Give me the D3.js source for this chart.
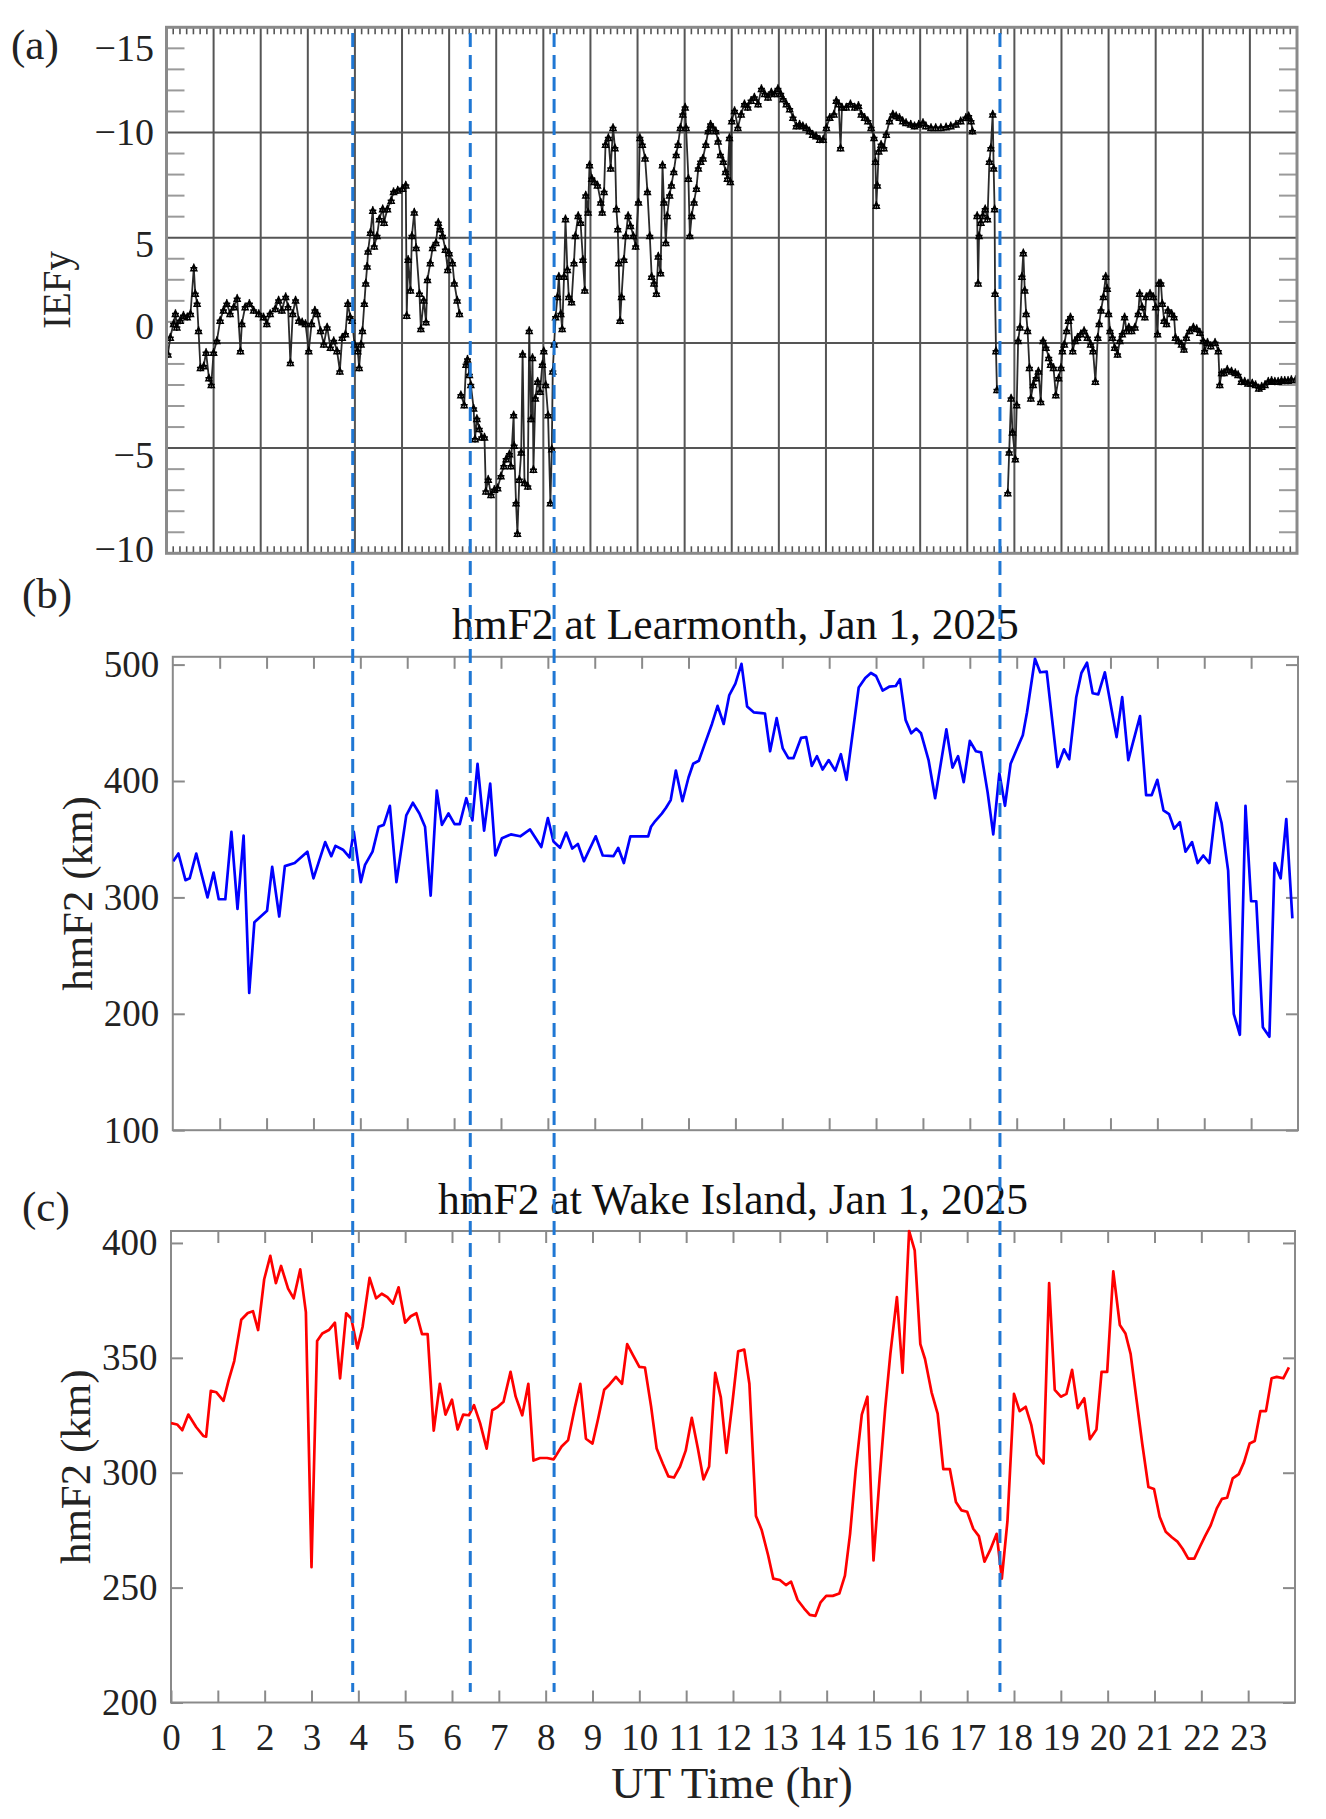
<!DOCTYPE html>
<html>
<head>
<meta charset="utf-8">
<script src="https://cdn.jsdelivr.net/npm/d3@7"></script>
<style>
  body { margin: 0; background: #ffffff; }
  svg { display: block; }
</style>
</head>
<body>
<svg id="chart" width="1326" height="1819"></svg>
<script>
// ---------------- DATA ----------------
// (a) IEFy time (UT hr) and value; null = data gap
const iefyT = [0.03,0.08,0.15,0.19,0.22,0.29,0.36,0.44,0.51,0.58,0.61,0.65,0.68,0.72,0.79,0.84,0.9,0.95,1.0,1.07,1.14,1.21,1.28,1.35,1.43,1.5,1.57,1.6,1.67,1.76,1.85,1.96,2.06,2.13,2.2,2.31,2.38,2.45,2.53,2.58,2.63,2.68,2.74,2.81,2.88,2.95,3.02,3.08,3.15,3.2,3.27,3.34,3.41,3.48,3.55,3.62,3.68,3.73,3.8,3.85,3.9,3.94,3.99,4.06,4.09,4.13,4.16,4.2,4.23,4.26,4.28,4.33,4.38,4.41,4.47,4.52,4.59,4.62,4.69,4.77,4.82,4.91,5.01,5.08,5.1,5.13,5.18,5.21,5.26,5.3,5.37,5.4,5.46,5.51,5.54,5.6,5.65,5.72,5.77,5.81,5.86,5.92,5.97,6.0,6.07,6.11,6.17,6.22,6.235,6.25,6.32,6.36,6.39,6.43,6.46,6.52,6.55,6.59,6.64,6.69,6.75,6.78,6.83,6.89,6.96,7.03,7.1,7.16,7.21,7.28,7.31,7.37,7.38,7.42,7.45,7.49,7.53,7.56,7.6,7.67,7.7,7.74,7.77,7.79,7.83,7.88,7.93,7.98,8.01,8.05,8.1,8.15,8.18,8.2,8.23,8.26,8.3,8.33,8.37,8.4,8.44,8.47,8.51,8.54,8.6,8.65,8.68,8.74,8.79,8.84,8.88,8.9,8.95,8.98,9.03,9.08,9.15,9.22,9.25,9.29,9.32,9.38,9.43,9.48,9.52,9.55,9.58,9.6,9.63,9.66,9.71,9.75,9.8,9.85,9.91,9.96,10.02,10.05,10.1,10.16,10.21,10.26,10.3,10.35,10.4,10.44,10.49,10.53,10.56,10.6,10.63,10.68,10.72,10.77,10.82,10.86,10.91,10.96,11.01,11.03,11.08,11.11,11.15,11.2,11.25,11.29,11.34,11.39,11.45,11.5,11.55,11.6,11.66,11.71,11.76,11.82,11.87,11.91,11.95,11.97,12.0,12.06,12.13,12.2,12.27,12.34,12.41,12.48,12.56,12.63,12.7,12.77,12.84,12.91,12.98,13.04,13.09,13.16,13.23,13.3,13.37,13.44,13.51,13.58,13.65,13.72,13.79,13.87,13.94,14.01,14.08,14.17,14.22,14.27,14.31,14.34,14.43,14.52,14.61,14.69,14.75,14.82,14.89,14.96,15.02,15.05,15.07,15.09,15.12,15.17,15.23,15.28,15.35,15.42,15.49,15.56,15.63,15.7,15.8,15.88,15.97,16.06,16.12,16.23,16.33,16.44,16.55,16.65,16.76,16.86,16.97,17.03,17.08,17.11,17.16,17.21,17.23,17.25,17.29,17.33,17.38,17.43,17.47,17.5,17.54,17.56,17.58,17.59,17.61,17.63,17.75,17.86,17.89,17.93,17.96,18.02,18.05,18.08,18.12,18.16,18.19,18.22,18.25,18.28,18.32,18.35,18.4,18.46,18.51,18.56,18.61,18.67,18.73,18.77,18.83,18.88,18.94,18.99,19.02,19.06,19.11,19.15,19.19,19.24,19.29,19.34,19.41,19.48,19.55,19.62,19.67,19.72,19.77,19.8,19.84,19.89,19.94,19.97,20.0,20.03,20.08,20.13,20.19,20.24,20.29,20.34,20.38,20.43,20.49,20.56,20.63,20.66,20.71,20.77,20.8,20.88,20.95,21.0,21.04,21.07,21.11,21.14,21.18,21.23,21.26,21.34,21.39,21.42,21.48,21.55,21.6,21.65,21.72,21.8,21.87,21.94,22.01,22.04,22.1,22.17,22.26,22.33,22.36,22.4,22.45,22.52,22.61,22.69,22.75,22.82,22.89,22.96,23.05,23.12,23.19,23.25,23.32,23.39,23.46,23.53,23.6,23.67,23.74,23.81,23.88,23.97];
const iefyV = [-0.53,0.27,0.92,1.4,0.76,1.08,1.32,1.24,1.4,3.57,2.36,1.88,0.59,-1.17,-1.09,-0.45,-1.66,-1.98,-0.45,0.11,1.08,1.56,1.88,1.4,1.72,2.12,-0.37,0.92,1.72,1.88,1.56,1.4,1.24,0.92,1.4,1.64,2.04,1.56,2.2,1.72,-0.93,1.4,2.04,1.08,1.0,0.92,-0.37,0.92,1.56,1.4,0.59,-0.05,0.76,-0.21,0.11,-0.37,-1.33,0.27,0.43,1.88,1.24,1.08,-0.05,-0.37,-1.17,-0.05,0.59,1.88,2.85,3.65,4.37,5.26,6.3,4.61,5.1,5.9,6.38,5.74,6.38,6.78,7.19,7.27,7.35,7.51,1.32,3.97,2.52,5.1,6.22,4.53,2.36,0.68,2.04,1.0,3.01,3.81,4.53,4.77,5.74,5.42,5.1,4.45,3.49,4.29,3.81,2.85,2.04,1.4,null,-2.46,-2.94,-1.01,-0.77,-1.5,-1.98,-3.1,-4.55,-3.59,-4.07,-4.47,-4.47,-7.04,-6.48,-7.2,-6.96,-6.88,-6.32,-5.84,-5.51,-5.27,-5.84,-3.42,-4.87,-7.6,-9.05,-6.48,-5.19,-0.53,-6.64,-6.8,0.59,-3.59,-0.69,-6.0,-2.62,-1.82,-2.3,-1.01,-0.37,-1.98,-3.42,-7.6,-5.03,-1.33,-0.05,1.24,2.2,3.17,1.4,0.68,3.17,5.9,3.49,2.2,1.96,3.81,5.1,6.06,5.74,3.97,2.52,7.03,6.22,8.47,7.83,7.67,7.51,6.7,6.22,7.19,9.44,9.76,8.31,10.24,9.28,6.38,5.42,3.81,1.08,2.2,3.97,5.1,6.06,5.58,5.1,4.61,6.7,9.76,9.44,8.79,7.19,5.1,3.17,2.85,2.36,4.13,3.33,8.47,6.7,4.77,6.06,7.03,7.51,8.15,8.95,9.44,10.24,10.88,11.21,10.24,7.83,5.1,6.06,6.7,7.35,8.31,8.63,8.79,9.44,10.08,10.4,10.24,10.08,9.6,8.95,8.63,8.15,7.83,9.76,7.67,10.56,11.05,10.24,10.88,11.37,11.21,11.53,11.69,11.37,12.09,11.85,11.69,11.93,11.85,12.09,11.85,11.61,11.37,11.13,10.72,10.32,10.4,10.32,10.24,10.08,9.92,9.84,9.68,9.68,10.24,10.72,10.88,11.53,11.37,9.28,11.21,11.21,11.37,11.21,11.29,10.88,10.72,10.56,10.24,9.76,8.63,6.54,7.51,9.12,9.44,9.28,9.92,10.56,10.88,10.8,10.72,10.56,10.48,10.4,10.32,10.4,10.48,10.32,10.24,10.24,10.24,10.27,10.32,10.4,10.56,10.72,10.8,10.56,10.08,null,6.06,2.85,5.1,5.74,6.06,6.38,5.9,8.63,9.28,10.88,8.31,6.38,2.36,-0.37,-2.22,null,-7.12,-5.19,-2.62,-4.23,-5.51,-2.94,0.11,0.76,3.17,4.29,2.52,1.4,0.59,-1.17,-2.62,-1.98,-1.66,-1.33,-2.78,0.11,-0.21,-0.69,-1.01,-1.17,-2.46,-1.66,-1.17,-0.37,-0.05,0.59,1.08,1.24,-0.37,0.11,0.27,0.43,0.59,0.27,-0.05,-0.37,-1.82,0.27,0.92,1.56,2.2,3.17,2.6,1.4,0.59,0.27,-0.21,-0.53,0.11,0.43,1.24,0.59,0.76,0.59,0.76,1.4,2.36,1.72,1.24,2.2,2.36,2.2,1.72,0.43,2.85,2.85,1.88,1.08,0.92,1.56,1.4,1.24,0.27,0.11,-0.05,-0.29,0.27,0.59,0.76,0.68,0.51,0.11,-0.37,0.03,-0.13,0.03,-0.37,-1.98,-1.41,-1.41,-1.25,-1.33,-1.41,-1.5,-1.82,-1.82,-1.9,-1.9,-1.98,-2.14,-2.06,-1.98,-1.82,-1.78,-1.82,-1.82,-1.78,-1.78,-1.78,-1.74,-1.74];

// (b) hmF2 at Learmonth
const learT = [0.01,0.12,0.27,0.36,0.5,0.74,0.87,0.98,1.12,1.25,1.38,1.51,1.63,1.74,2.01,2.12,2.27,2.39,2.6,2.87,3.0,3.25,3.38,3.47,3.63,3.77,3.86,4.01,4.1,4.26,4.39,4.5,4.63,4.77,4.98,5.12,5.26,5.38,5.5,5.63,5.74,5.88,6.01,6.12,6.26,6.39,6.5,6.64,6.77,6.88,7.02,7.21,7.41,7.62,7.86,8.0,8.12,8.26,8.39,8.52,8.64,8.77,9.02,9.17,9.4,9.5,9.62,9.76,10.02,10.14,10.2,10.29,10.43,10.52,10.62,10.73,10.87,11.0,11.1,11.22,11.34,11.5,11.62,11.75,11.87,12.0,12.13,12.25,12.39,12.63,12.74,12.88,13.01,13.13,13.24,13.4,13.51,13.63,13.74,13.86,13.99,14.13,14.25,14.37,14.63,14.77,14.89,15.0,15.14,15.28,15.42,15.51,15.63,15.75,15.86,15.96,16.12,16.26,16.5,16.63,16.75,16.87,17.0,17.13,17.24,17.38,17.5,17.63,17.75,17.87,17.99,18.13,18.22,18.39,18.5,18.64,18.87,19.01,19.12,19.27,19.38,19.5,19.62,19.74,19.88,20.13,20.25,20.38,20.63,20.76,20.88,21.0,21.13,21.25,21.36,21.48,21.6,21.74,21.86,21.98,22.11,22.26,22.37,22.51,22.63,22.76,22.88,23.0,23.11,23.25,23.39,23.5,23.63,23.75,23.88];
const learV = [331.1,337.7,314.8,316.4,337.7,300,321.3,298.4,298.4,356.4,290.2,353.1,218,278.7,288.5,326.2,283.6,326.9,329.5,339.3,316.4,347.5,335.4,344.3,341,334.4,356.4,313.1,327.9,339.3,360.7,362.3,378.7,313.1,370.5,381.3,372.1,360.7,301.6,391.8,362.3,372.1,363,363,385.2,366.2,414.8,357.4,397.7,336,350.8,354.1,352.5,358.4,343.3,368.2,348,342.6,355.7,342,345.9,331.1,352.5,336,335.4,342.6,329.5,352.5,352.5,352.5,360.7,365.6,372,377,383.6,409,382.6,403,414.8,417.4,431,449,464.6,449,473.8,483.6,500.6,464,459,458,425.6,454,428,419.7,419.7,437,437.7,413,421.3,409.8,418,408.9,423,401,480.3,488.5,492.8,490.2,477.7,481,481.6,487.5,452.5,441,445,441,418,385.2,444.3,411.5,421.3,399,434.4,425.6,424.6,390.2,354.1,406.6,378.7,414.8,426.2,439.3,459,505,493.4,494,412,427.2,418.7,472,492.8,501.6,475.4,474.4,493.4,437.7,472,418,455.7,387.9,387.9,401,374.8,371.5,359,364.6,339.3,347.5,329.5,336,329.5,381.3,363.9,323,200,182,378.7,296.7,296.7,188.5,180.3,329.5,316.4,367.2,282];

// (c) hmF2 at Wake Island
const wakeT = [0.0,0.13,0.24,0.37,0.54,0.69,0.75,0.85,0.97,1.12,1.23,1.35,1.5,1.64,1.75,1.86,1.99,2.12,2.24,2.35,2.5,2.62,2.76,2.88,3.0,3.12,3.23,3.37,3.5,3.61,3.74,3.85,3.98,4.09,4.24,4.38,4.5,4.62,4.74,4.86,5.0,5.12,5.24,5.36,5.48,5.61,5.74,5.86,6.0,6.12,6.24,6.36,6.47,6.6,6.74,6.86,6.98,7.1,7.25,7.36,7.5,7.63,7.74,7.88,8.03,8.17,8.34,8.48,8.62,8.74,8.86,9.0,9.12,9.25,9.36,9.5,9.63,9.74,9.87,10.0,10.12,10.25,10.37,10.5,10.62,10.74,10.87,10.99,11.12,11.25,11.37,11.49,11.62,11.74,11.86,11.99,12.11,12.24,12.35,12.49,12.61,12.75,12.86,13.0,13.13,13.24,13.38,13.52,13.64,13.76,13.87,13.99,14.13,14.27,14.39,14.5,14.62,14.75,14.87,15.0,15.13,15.25,15.36,15.5,15.62,15.76,15.88,16.0,16.1,16.24,16.37,16.49,16.63,16.76,16.88,17.0,17.13,17.25,17.37,17.49,17.63,17.74,17.86,18.0,18.12,18.25,18.37,18.49,18.63,18.75,18.87,19.0,19.12,19.24,19.36,19.5,19.62,19.76,19.87,19.99,20.12,20.26,20.38,20.49,20.61,20.74,20.87,20.99,21.11,21.24,21.37,21.49,21.6,21.72,21.85,21.97,22.08,22.2,22.33,22.44,22.55,22.67,22.8,22.91,23.03,23.14,23.26,23.38,23.5,23.61,23.75,23.87];
const wakeV = [321.6,321,318.5,325.3,319.8,316,315.7,335.6,335,331.3,340.2,348.6,366.6,369.5,370.3,362.1,384.2,394.4,382.5,390,380.1,375.9,388.5,369.9,258.9,357.3,360.6,362.1,365.3,341.1,369.4,367.1,354.1,363.4,384.8,375.9,377.9,376.4,373.6,380.7,365.3,368.1,369.4,360.3,360.3,318.3,338.7,325.3,331.8,318.8,325.3,325,329.4,321.6,310.5,327.2,328.7,330.9,343.9,333.1,325,338.7,305.3,306.4,306.4,305.8,311.4,314.2,328.1,338.7,314.8,312.7,323.5,336.1,338.3,341.7,338.7,356,351,346.1,345.8,329,310.5,304,298.4,297.9,302.7,309.6,323.9,310.5,297.1,302.7,343.5,332.8,308.6,330.9,352.8,353.6,338.7,281.2,275.2,264.1,253.9,253.3,251.1,252.6,244.6,240.9,238.1,237.7,243.6,246.4,246.4,247.4,255.2,273.4,301.2,325.3,333.1,261.8,297.5,328.1,351.7,376.4,343.5,405.2,396.8,356,349.5,335,325.7,301.6,301.6,287.3,283.6,283,275.6,272.4,261.3,266.3,273.4,253.9,278.9,334.3,326.8,328.7,320.7,307.7,304,382.5,336.1,333.1,334.3,344.8,328.1,332.4,314.6,318.8,343.9,343.9,387.6,364.3,360.6,351.7,332.8,312.4,293.8,292.9,280.8,274.3,271.9,270,266.9,262.6,262.6,267.8,272.4,277.1,284.5,288.6,289.1,297.5,299.4,304.5,312.7,313.8,326.8,326.8,341.1,341.7,341.1,345.8];

// event markers (UT hr)
const eventHours = [3.88, 6.39, 8.18, 17.70];

// ticks and labels
const hourTicks = d3.range(0, 24);
const yTicksA = [15, 10, 5, 0, -5, -10];
const yTickLabelsA = ["\u221215", "\u221210", "5", "0", "\u22125", "\u221210"];
const yTicksB = [100, 200, 300, 400, 500];
const yTicksC = [200, 250, 300, 350, 400];
const panelLetters = ["(a)", "(b)", "(c)"];
const titleB = "hmF2 at Learmonth, Jan 1, 2025";
const titleC = "hmF2 at Wake Island, Jan 1, 2025";
const yLabelA = "IEFy";
const yLabelBC = "hmF2 (km)";
const xLabel = "UT Time (hr)";

// ---------------- DRAWING ----------------
const FONT = '"Liberation Serif","Times New Roman",Times,serif';
const svg = d3.select("#chart");
svg.append("rect").attr("width", 1326).attr("height", 1819).attr("fill", "#fff");

const toPts = (T, V) => T.map((t, i) => ({ t: t, v: V[i] }));

// ===== Panel (a) =====
const xA = d3.scaleLinear().domain([0, 24]).range([166.5, 1297]);
const yA = d3.scaleLinear().domain([-10, 15]).range([553.3, 27.3]);
const gA = svg.append("g");

gA.selectAll("line.vg").data(d3.range(1, 24)).join("line").attr("class", "vg")
  .attr("x1", d => xA(d)).attr("x2", d => xA(d))
  .attr("y1", yA(15)).attr("y2", yA(-10))
  .attr("stroke", "#555").attr("stroke-width", 2);
gA.selectAll("line.hg").data([10, 5, 0, -5]).join("line").attr("class", "hg")
  .attr("x1", xA(0)).attr("x2", xA(24))
  .attr("y1", d => yA(d)).attr("y2", d => yA(d))
  .attr("stroke", "#555").attr("stroke-width", 2);

// minor y ticks (every 1 unit) on both sides
const minorY = d3.range(-9, 15).filter(v => v % 5 !== 0);
gA.selectAll("line.myl").data(minorY).join("line").attr("class", "myl")
  .attr("x1", xA(0)).attr("x2", xA(0) + 18)
  .attr("y1", d => yA(d)).attr("y2", d => yA(d))
  .attr("stroke", "#9a9a9a").attr("stroke-width", 2);
gA.selectAll("line.myr").data(minorY).join("line").attr("class", "myr")
  .attr("x1", xA(24) - 18).attr("x2", xA(24))
  .attr("y1", d => yA(d)).attr("y2", d => yA(d))
  .attr("stroke", "#9a9a9a").attr("stroke-width", 2);

// minor x ticks top/bottom
const minorX = [];
hourTicks.forEach(h => { for (let k = 1; k <= 6; k++) minorX.push(h + k / 7); });
gA.selectAll("line.mxt").data(minorX).join("line").attr("class", "mxt")
  .attr("x1", d => xA(d)).attr("x2", d => xA(d))
  .attr("y1", yA(15)).attr("y2", yA(15) + 7)
  .attr("stroke", "#555").attr("stroke-width", 1.6);
gA.selectAll("line.mxb").data(minorX).join("line").attr("class", "mxb")
  .attr("x1", d => xA(d)).attr("x2", d => xA(d))
  .attr("y1", yA(-10) - 7).attr("y2", yA(-10))
  .attr("stroke", "#555").attr("stroke-width", 1.6);

// data
svg.append("clipPath").attr("id", "clipA").append("rect")
  .attr("x", xA(0)).attr("y", yA(15)).attr("width", xA(24) - xA(0)).attr("height", yA(-10) - yA(15));
const ptsA = toPts(iefyT, iefyV);
const lineA = d3.line().defined(d => d.v !== null).x(d => xA(d.t)).y(d => yA(d.v));
const gAd = gA.append("g").attr("clip-path", "url(#clipA)");
gAd.append("path").datum(ptsA).attr("d", lineA)
  .attr("fill", "none").attr("stroke", "#2a2a2a").attr("stroke-width", 1.8);
gAd.selectAll("path.mk").data(ptsA.filter(d => d.v !== null)).join("path").attr("class", "mk")
  .attr("transform", d => `translate(${xA(d.t)},${yA(d.v)})`)
  .attr("d", "M-3.5,0H3.5M0,-4V4M-3,3L0,-3L3,3Z")
  .attr("fill", "none").attr("stroke", "#000").attr("stroke-width", 1.5);

// border
gA.append("rect").attr("x", xA(0)).attr("y", yA(15))
  .attr("width", xA(24) - xA(0)).attr("height", yA(-10) - yA(15))
  .attr("fill", "none").attr("stroke", "#8a8a8a").attr("stroke-width", 3);

// y tick labels via axis
const nudgeA = [20.7, -0.7, 6, -17.8, 6, -4.3];
const axA = svg.append("g").attr("transform", `translate(${xA(0)},0)`)
  .call(d3.axisLeft(yA).tickValues(yTicksA).tickFormat((d, i) => yTickLabelsA[i]).tickSize(0).tickPadding(12.5));
axA.select(".domain").remove();
axA.selectAll("text").attr("font-family", FONT).attr("font-size", 38).attr("fill", "#222")
  .attr("dy", "0.34em")
  .attr("transform", (d, i) => `translate(0,${nudgeA[i]})`);

svg.append("text").attr("transform", `translate(56,290) rotate(-90)`)
  .attr("text-anchor", "middle").attr("dominant-baseline", "central")
  .attr("font-family", FONT).attr("font-size", 39).attr("fill", "#222").text(yLabelA);

// ===== Generic MATLAB-like panel =====
function matPanel(opts) {
  const x = d3.scaleLinear().domain([0, 24]).range([opts.x0, opts.x1]);
  const y = d3.scaleLinear().domain(opts.yDomain).range([opts.y1, opts.y0]);
  const g = svg.append("g");
  const axisColor = "#8a8a8a";
  const styleAxis = sel => {
    sel.select(".domain").remove();
    sel.selectAll("line").attr("stroke", axisColor).attr("stroke-width", 2);
    sel.selectAll("text").attr("font-family", FONT).attr("font-size", 37).attr("fill", "#222");
  };
  g.append("g").attr("transform", `translate(${opts.x0},0)`)
    .call(d3.axisLeft(y).tickValues(opts.yTicks).tickSizeInner(-12).tickSizeOuter(0).tickPadding(13.5).tickFormat(d3.format("d")))
    .call(styleAxis);
  g.append("g").attr("transform", `translate(${opts.x1},0)`)
    .call(d3.axisRight(y).tickValues(opts.yTicks).tickSizeInner(-12).tickSizeOuter(0).tickFormat(""))
    .call(styleAxis);
  g.append("g").attr("transform", `translate(0,${opts.y0})`)
    .call(d3.axisTop(x).tickValues(hourTicks.slice(1)).tickSizeInner(-12).tickSizeOuter(0).tickFormat(""))
    .call(styleAxis);
  const bottom = d3.axisBottom(x).tickValues(opts.xLabels ? hourTicks : hourTicks.slice(1))
    .tickSizeInner(-12).tickSizeOuter(0).tickPadding(21);
  if (!opts.xLabels) bottom.tickFormat("");
  g.append("g").attr("transform", `translate(0,${opts.y1})`).call(bottom).call(styleAxis);

  g.append("rect").attr("x", opts.x0).attr("y", opts.y0)
    .attr("width", opts.x1 - opts.x0).attr("height", opts.y1 - opts.y0)
    .attr("fill", "none").attr("stroke", axisColor).attr("stroke-width", 2);

  const cid = "clip" + opts.id;
  svg.append("clipPath").attr("id", cid).append("rect")
    .attr("x", opts.x0).attr("y", opts.y0 - 2).attr("width", opts.x1 - opts.x0).attr("height", opts.y1 - opts.y0 + 4);
  const line = d3.line().x(d => x(d.t)).y(d => y(d.v));
  g.append("path").datum(toPts(opts.T, opts.V)).attr("d", line)
    .attr("clip-path", `url(#${cid})`)
    .attr("fill", "none").attr("stroke", opts.color).attr("stroke-width", 2.7)
    .attr("stroke-linejoin", "round");

  g.append("text").attr("x", (opts.x0 + opts.x1) / 2).attr("y", opts.titleY)
    .attr("text-anchor", "middle").attr("font-family", FONT).attr("font-size", 43.5).attr("fill", "#111")
    .text(opts.title);
  g.append("text").attr("transform", `translate(${opts.ylabX},${(opts.y0 + opts.y1) / 2}) rotate(-90)`)
    .attr("text-anchor", "middle").attr("dominant-baseline", "central")
    .attr("font-family", FONT).attr("font-size", 43).attr("fill", "#222").text(yLabelBC);
  return x;
}

matPanel({ id: "B", x0: 172.8, x1: 1298, y0: 656.8, y1: 1130.2, yDomain: [100, 506.7],
  yTicks: yTicksB, T: learT, V: learV, color: "#0000ff", title: titleB, titleY: 638.5, ylabX: 77, xLabels: false });
const xC = matPanel({ id: "C", x0: 171, x1: 1295, y0: 1231, y1: 1702.5, yDomain: [200, 405.2],
  yTicks: yTicksC, T: wakeT, V: wakeV, color: "#ff0000", title: titleC, titleY: 1214, ylabX: 75, xLabels: true });

svg.append("text").attr("x", 732).attr("y", 1798).attr("text-anchor", "middle")
  .attr("font-family", FONT).attr("font-size", 45).attr("fill", "#222").text(xLabel);

// panel letters
const letterPos = [[11, 59], [22, 608], [22, 1221]];
svg.selectAll("text.letter").data(panelLetters).join("text").attr("class", "letter")
  .attr("x", (d, i) => letterPos[i][0]).attr("y", (d, i) => letterPos[i][1])
  .attr("font-family", FONT).attr("font-size", 43).attr("fill", "#222").text(d => d);

// dashed event lines spanning all panels
svg.selectAll("line.ev").data(eventHours).join("line").attr("class", "ev")
  .attr("x1", d => xC(d)).attr("x2", d => xC(d))
  .attr("y1", 33).attr("y2", 1692)
  .attr("stroke", "#1f77d4").attr("stroke-width", 3).attr("stroke-dasharray", "14,8");
</script>
</body>
</html>
